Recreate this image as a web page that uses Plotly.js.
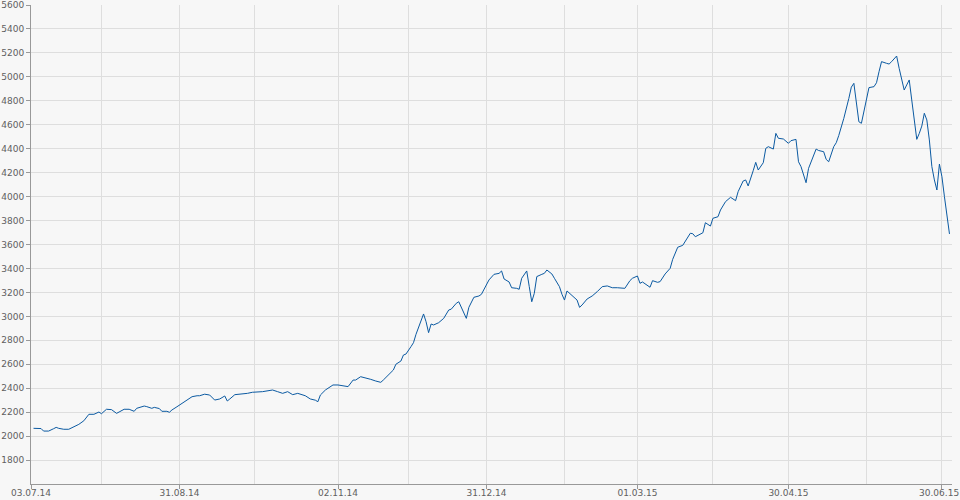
<!DOCTYPE html>
<html>
<head>
<meta charset="utf-8">
<script src="https://cdn.plot.ly/plotly-3.0.1.min.js"></script>
<style>html,body{margin:0;padding:0;background:#f7f7f7;}#chart{width:960px;height:500px;}</style>
</head>
<body>
<div id="chart"></div>
<script>
var dates = [
"2014-07-04","2014-07-07","2014-07-08","2014-07-10","2014-07-12","2014-07-13","2014-07-14","2014-07-16","2014-07-18","2014-07-20",
"2014-07-22","2014-07-24","2014-07-26","2014-07-28","2014-07-30","2014-07-31","2014-08-02","2014-08-04","2014-08-06","2014-08-07",
"2014-08-09","2014-08-11","2014-08-13","2014-08-14","2014-08-17","2014-08-18","2014-08-20","2014-08-21","2014-08-23","2014-08-24",
"2014-08-26","2014-08-27","2014-08-28","2014-08-30","2014-09-01","2014-09-03","2014-09-05","2014-09-07","2014-09-08","2014-09-10",
"2014-09-12","2014-09-14","2014-09-16","2014-09-18","2014-09-19","2014-09-20","2014-09-22","2014-09-27","2014-09-29","2014-10-03",
"2014-10-07","2014-10-09","2014-10-11","2014-10-13","2014-10-15","2014-10-17","2014-10-19","2014-10-20","2014-10-22","2014-10-24",
"2014-10-25","2014-10-26","2014-10-28","2014-10-31","2014-11-02","2014-11-06","2014-11-08","2014-11-09","2014-11-11","2014-11-13",
"2014-11-15","2014-11-17","2014-11-19","2014-11-20","2014-11-22","2014-11-24","2014-11-25","2014-11-27","2014-11-28","2014-11-29",
"2014-12-01","2014-12-02","2014-12-03","2014-12-05","2014-12-06","2014-12-07","2014-12-08","2014-12-09","2014-12-10","2014-12-12",
"2014-12-14","2014-12-16","2014-12-17","2014-12-19","2014-12-20","2014-12-23","2014-12-24","2014-12-26","2014-12-28","2014-12-29",
"2014-12-31","2015-01-01","2015-01-03","2015-01-05","2015-01-06","2015-01-07","2015-01-09","2015-01-10","2015-01-12","2015-01-13",
"2015-01-14","2015-01-16","2015-01-17","2015-01-18","2015-01-19","2015-01-20","2015-01-22","2015-01-23","2015-01-24","2015-01-26",
"2015-01-27","2015-01-29","2015-01-30","2015-01-31","2015-02-01","2015-02-03","2015-02-05","2015-02-06","2015-02-07","2015-02-09",
"2015-02-11","2015-02-13","2015-02-15","2015-02-17","2015-02-19","2015-02-21","2015-02-24","2015-02-26","2015-02-27","2015-03-01",
"2015-03-02","2015-03-03","2015-03-05","2015-03-06","2015-03-07","2015-03-09","2015-03-10","2015-03-12","2015-03-14","2015-03-15",
"2015-03-17","2015-03-19","2015-03-22","2015-03-23","2015-03-24","2015-03-26","2015-03-27","2015-03-28","2015-03-30","2015-03-31",
"2015-04-02","2015-04-03","2015-04-05","2015-04-07","2015-04-09","2015-04-10","2015-04-12","2015-04-13","2015-04-14","2015-04-16",
"2015-04-17","2015-04-18","2015-04-20","2015-04-21","2015-04-22","2015-04-24","2015-04-25","2015-04-26","2015-04-28","2015-04-30",
"2015-05-01","2015-05-03","2015-05-04","2015-05-05","2015-05-07","2015-05-08","2015-05-10","2015-05-11","2015-05-12","2015-05-14",
"2015-05-15","2015-05-16","2015-05-18","2015-05-19","2015-05-20","2015-05-22","2015-05-24","2015-05-25","2015-05-26","2015-05-28",
"2015-05-29","2015-05-30","2015-05-31","2015-06-01","2015-06-03","2015-06-04","2015-06-05","2015-06-06","2015-06-08","2015-06-09",
"2015-06-10","2015-06-12","2015-06-13","2015-06-15","2015-06-16","2015-06-17","2015-06-18","2015-06-19","2015-06-20","2015-06-21",
"2015-06-22","2015-06-23","2015-06-24","2015-06-25","2015-06-26","2015-06-27","2015-06-28","2015-06-29","2015-06-30","2015-07-01",
"2015-07-02","2015-07-03"
];
var values = [
2065,2063,2042,2042,2062,2073,2065,2057,2057,2076,
2098,2128,2182,2182,2201,2187,2224,2221,2190,2201,
2224,2224,2207,2232,2251,2246,2232,2240,2230,2207,
2207,2199,2218,2245,2273,2307,2329,2337,2337,2350,
2343,2301,2310,2335,2293,2310,2346,2357,2366,2371,
2385,2371,2357,2371,2346,2357,2343,2337,2310,2300,
2287,2343,2385,2427,2427,2413,2468,2468,2496,2487,
2474,2460,2449,2468,2510,2552,2600,2627,2677,2685,
2747,2780,2850,2955,3020,2955,2864,2936,2928,2947,
2983,3053,3060,3109,3122,2983,3075,3159,3170,3184,
3262,3304,3351,3359,3379,3312,3287,3239,3234,3226,
3318,3379,3248,3122,3192,3332,3351,3359,3387,3354,
3318,3248,3184,3136,3212,3173,3136,3075,3095,3145,
3170,3206,3248,3254,3239,3239,3234,3298,3318,3337,
3276,3287,3254,3243,3298,3284,3290,3354,3401,3476,
3577,3593,3694,3690,3665,3690,3698,3782,3754,3819,
3832,3888,3958,3994,3966,4041,4130,4139,4089,4216,
4286,4222,4283,4403,4417,4397,4528,4487,4481,4445,
4467,4478,4291,4250,4116,4236,4347,4397,4385,4375,
4311,4291,4417,4450,4510,4653,4820,4914,4946,4625,
4612,4709,4834,4910,4918,4951,5043,5127,5113,5107,
5127,5174,5071,4890,4932,4974,4807,4625,4478,4528,
4589,4696,4640,4473,4250,4139,4055,4272,4166,3999,
3860,3688
];
var xTickVals = ["2014-07-03","2014-08-31","2014-11-02","2014-12-31","2015-03-01","2015-04-30","2015-06-30"];
var xTickText = ["03.07.14","31.08.14","02.11.14","31.12.14","01.03.15","30.04.15","30.06.15\u00a0\u00a0"];
var xGridVals = ["2014-07-31","2014-09-30","2014-11-30","2015-01-31","2015-03-31","2015-05-31"];
var yTickVals = [1800,2000,2200,2400,2600,2800,3000,3200,3400,3600,3800,4000,4200,4400,4600,4800,5000,5200,5400,5600];
var yTickText = ["1800","2000","2200","2400","2600","2800","3000","3200","3400","3600","3800","4000","4200","4400","4600","4800","5000","5200","5400","5600"];

var tickFont = {family: "DejaVu Sans", size: 9, color: "#5f5f5f"};
var trace = {
  x: dates, y: values, type: "scatter", mode: "lines",
  line: {color: "#0b5aa2", width: 1}, hoverinfo: "none"
};
var layout = {
  width: 960, height: 500,
  margin: {l: 31, r: 8, t: 5, b: 16, pad: 0},
  paper_bgcolor: "#f7f7f7", plot_bgcolor: "#f7f7f7",
  showlegend: false,
  xaxis: {
    type: "date", range: ["2014-07-03", "2015-07-04"],
    tickmode: "array", tickvals: xTickVals, ticktext: xTickText,
    ticks: "outside", ticklen: 4, tickcolor: "#999999", tickwidth: 1,
    ticklabelstandoff: -4, ticklabeloverflow: "allow",
    showline: true, linecolor: "#999999", linewidth: 1,
    showgrid: true, gridcolor: "#dedede", gridwidth: 1, zeroline: false,
    minor: {tickmode: "array", tickvals: xGridVals, showgrid: true, gridcolor: "#dedede", gridwidth: 1, ticks: ""},
    tickfont: tickFont, fixedrange: true
  },
  yaxis: {
    range: [1600, 5600],
    tickmode: "array", tickvals: yTickVals, ticktext: yTickText,
    ticks: "outside", ticklen: 4, tickcolor: "#999999", tickwidth: 1,
    ticklabeloverflow: "allow",
    showline: true, linecolor: "#999999", linewidth: 1,
    showgrid: true, gridcolor: "#dedede", gridwidth: 1, zeroline: false,
    tickfont: tickFont, fixedrange: true
  }
};
Plotly.newPlot("chart", [trace], layout, {staticPlot: true, displayModeBar: false});
</script>
</body>
</html>
